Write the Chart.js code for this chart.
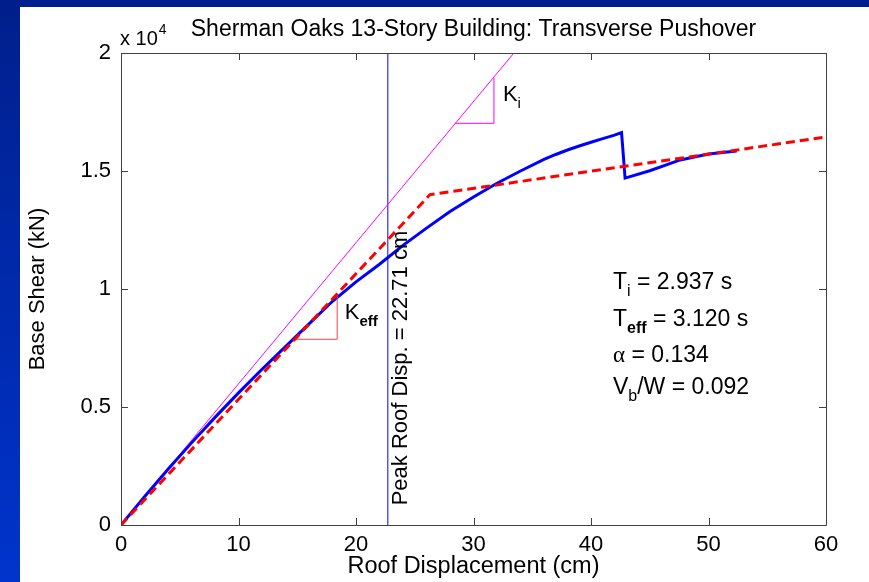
<!DOCTYPE html>
<html><head><meta charset="utf-8">
<script src="https://cdn.jsdelivr.net/npm/chart.js@4/dist/chart.umd.min.js"></script>
<style>html,body{margin:0;padding:0;background:#fff;overflow:hidden}canvas{display:block}</style>
</head><body>
<canvas id="c" width="869" height="582"></canvas>
<script>
const titleText = 'Sherman Oaks 13-Story Building: Transverse Pushover';
const xAxisTitle = 'Roof Displacement (cm)';
const yAxisTitle = 'Base Shear (kN)';
const xTickValues = [0, 10, 20, 30, 40, 50, 60];
const xTickLabels = ['0', '10', '20', '30', '40', '50', '60'];
const yTickValues = [0, 5000, 10000, 15000, 20000];
const yTickLabels = ['0', '0.5', '1', '1.5', '2'];

// pushover curve (blue)
const pushoverDisp  = [0, 2, 4, 6, 8, 10, 12, 14, 16, 18, 20, 22, 24, 26, 28, 30, 32, 34, 36, 37, 38, 39, 40, 41, 42, 42.6, 42.9, 45, 47.6, 50, 52.4];
const pushoverShear = [0, 1200, 2360, 3480, 4560, 5600, 6600, 7560, 8520, 9480, 10300, 11050, 11850, 12580, 13280, 13900, 14480, 15000, 15490, 15700, 15890, 16060, 16220, 16370, 16520, 16630, 14700, 15010, 15470, 15720, 15850];
// bilinear idealisation (red dashed)
const bilinearDisp  = [0, 26.3, 60];
const bilinearShear = [0, 14000, 16440];
// initial stiffness line (magenta)
const initialDisp  = [0, 33.44];
const initialShear = [0, 20000];
// stiffness triangles
const kiTriDisp    = [28.43, 31.74, 31.74];
const kiTriShear   = [17020, 17020, 18960];
const keffTriDisp  = [14.8, 18.4, 18.4];
const keffTriShear = [7870, 7870, 9740];
// peak roof displacement
const peakDisp = 22.71;
const peakLineShear = [0, 20000];
// results text
const resultLines = [
  {main: 'T', sub: 'i', subBold: false, rest: ' = 2.937 s'},
  {main: 'T', sub: 'eff', subBold: true, rest: ' = 3.120 s'},
  {main: '\u03B1', sub: '', subBold: false, rest: ' = 0.134'},
  {main: 'V', sub: 'b', subBold: false, rest: '/W = 0.092'}
];

const FAM = '"Liberation Sans", Arial, Helvetica, sans-serif';
const zip = (xs, ys) => xs.map((x, i) => ({x: x, y: ys[i]}));

const bgPlugin = {
  id: 'bg',
  beforeDraw(chart) {
    const ctx = chart.ctx, W = chart.width, H = chart.height;
    ctx.save();
    ctx.fillStyle = '#ffffff';
    ctx.fillRect(0, 0, W, H);
    ctx.fillStyle = '#001f8c';
    ctx.fillRect(0, 0, W, 7);
    const g = ctx.createLinearGradient(0, 0, 0, H);
    g.addColorStop(0, '#001f8c');
    g.addColorStop(1, '#0034cc');
    ctx.fillStyle = g;
    ctx.fillRect(0, 0, 20, H);
    ctx.restore();
  }
};

const framePlugin = {
  id: 'frame',
  afterDatasetsDraw(chart) {
    const ctx = chart.ctx, a = chart.chartArea;
    const xs = chart.scales.x, ys = chart.scales.y;
    const L = 7;
    ctx.save();
    ctx.strokeStyle = '#404040';
    ctx.lineWidth = 1;
    ctx.beginPath();
    ctx.rect(Math.round(a.left) + 0.5, Math.round(a.top) + 0.5, Math.round(a.right - a.left), Math.round(a.bottom - a.top));
    xTickValues.forEach(v => {
      const px = Math.round(xs.getPixelForValue(v)) + 0.5;
      ctx.moveTo(px, a.bottom); ctx.lineTo(px, a.bottom - L);
      ctx.moveTo(px, a.top); ctx.lineTo(px, a.top + L);
    });
    yTickValues.forEach(v => {
      const py = Math.round(ys.getPixelForValue(v)) + 0.5;
      ctx.moveTo(a.left, py); ctx.lineTo(a.left + L, py);
      ctx.moveTo(a.right, py); ctx.lineTo(a.right - L, py);
    });
    ctx.stroke();
    ctx.restore();
  }
};

function drawSub(ctx, x, y, main, sub, subBold, rest, size, mainFont) {
  ctx.font = size + 'px ' + (mainFont || FAM);
  ctx.fillText(main, x, y);
  x += ctx.measureText(main).width;
  if (sub) {
    const ss = Math.round(size * 0.7);
    ctx.font = (subBold ? 'bold ' : '') + ss + 'px ' + FAM;
    ctx.fillText(sub, x, y + size * 0.38);
    x += ctx.measureText(sub).width;
  }
  if (rest) {
    ctx.font = size + 'px ' + FAM;
    ctx.fillText(rest, x, y);
  }
}

const annotPlugin = {
  id: 'annot',
  afterDraw(chart) {
    const ctx = chart.ctx, a = chart.chartArea;
    const xs = chart.scales.x, ys = chart.scales.y;
    ctx.save();
    ctx.fillStyle = '#000';
    ctx.textBaseline = 'middle';
    // title
    ctx.textAlign = 'center';
    ctx.font = '23px ' + FAM;
    ctx.fillText(titleText, (a.left + a.right) / 2, 30);
    // exponent
    ctx.textAlign = 'left';
    ctx.font = '20px ' + FAM;
    ctx.fillText('x 10', a.left - 1, 39);
    const w = ctx.measureText('x 10').width;
    ctx.font = '14px ' + FAM;
    ctx.fillText('4', a.left - 1 + w + 1, 30);
    // Ki
    drawSub(ctx, xs.getPixelForValue(32.5), ys.getPixelForValue(18220), 'K', 'i', false, '', 22);
    // Keff
    drawSub(ctx, xs.getPixelForValue(19.05), ys.getPixelForValue(8980), 'K', 'eff', true, '', 22);
    // results
    const rx = xs.getPixelForValue(41.87);
    const ry = [10254, 8686, 7161, 5805];
    resultLines.forEach((r, i) => {
      drawSub(ctx, rx, ys.getPixelForValue(ry[i]), r.main, r.sub, r.subBold, r.rest, 23,
        r.main === '\u03B1' ? '"Liberation Serif", serif' : null);
    });
    // peak text (rotated)
    ctx.save();
    ctx.translate(xs.getPixelForValue(23.83), ys.getPixelForValue(6650));
    ctx.rotate(-Math.PI / 2);
    ctx.textAlign = 'center';
    ctx.font = '22px ' + FAM;
    ctx.fillText('Peak Roof Disp. = ' + peakDisp.toFixed(2) + ' cm', 0, 0);
    ctx.restore();
    ctx.restore();
  }
};

const baseLine = {showLine: true, pointRadius: 0, fill: false, tension: 0};

new Chart(document.getElementById('c'), {
  type: 'scatter',
  data: {
    datasets: [
      Object.assign({label: 'Bilinear', data: zip(bilinearDisp, bilinearShear), borderColor: '#ff0000', borderWidth: 3, borderDash: [9, 5]}, baseLine),
      Object.assign({label: 'Keff', data: zip(keffTriDisp, keffTriShear), borderColor: '#ff4040', borderWidth: 1}, baseLine),
      Object.assign({label: 'Pushover', data: zip(pushoverDisp, pushoverShear), borderColor: '#0000ff', borderWidth: 3}, baseLine),
      Object.assign({label: 'Ki', data: zip(kiTriDisp, kiTriShear), borderColor: '#ff00ff', borderWidth: 1}, baseLine),
      Object.assign({label: 'Initial', data: zip(initialDisp, initialShear), borderColor: '#ff00ff', borderWidth: 1}, baseLine),
      Object.assign({label: 'Peak', data: zip([peakDisp, peakDisp], peakLineShear), borderColor: '#0000ff', borderWidth: 1}, baseLine)
    ]
  },
  options: {
    responsive: false,
    animation: false,
    devicePixelRatio: 1,
    layout: {padding: {top: 53, right: 43, left: 20, bottom: 0}},
    plugins: {legend: {display: false}, tooltip: {enabled: false}, title: {display: false}},
    scales: {
      x: {
        type: 'linear', min: 0, max: 60,
        afterBuildTicks: s => { s.ticks = xTickValues.map(v => ({value: v})); },
        ticks: {callback: (v, i) => xTickLabels[i], color: '#000', font: {size: 22, family: FAM}, padding: 7, maxRotation: 0, autoSkip: false},
        grid: {display: false, drawTicks: false},
        border: {display: false},
        title: {display: true, text: xAxisTitle, color: '#000', font: {size: 23.5, family: FAM}, padding: {top: 0, bottom: 1}},
        afterFit: s => { s.height = 57; }
      },
      y: {
        type: 'linear', min: 0, max: 20000,
        afterBuildTicks: s => { s.ticks = yTickValues.map(v => ({value: v})); },
        ticks: {callback: (v, i) => yTickLabels[i], color: '#000', font: {size: 22, family: FAM}, padding: 10, autoSkip: false},
        grid: {display: false, drawTicks: false},
        border: {display: false},
        title: {display: true, text: yAxisTitle, color: '#000', font: {size: 22, family: FAM}, padding: {top: 5, bottom: 0}},
        afterFit: s => { s.width = 101; }
      }
    }
  },
  plugins: [bgPlugin, framePlugin, annotPlugin]
});
</script>
</body></html>
